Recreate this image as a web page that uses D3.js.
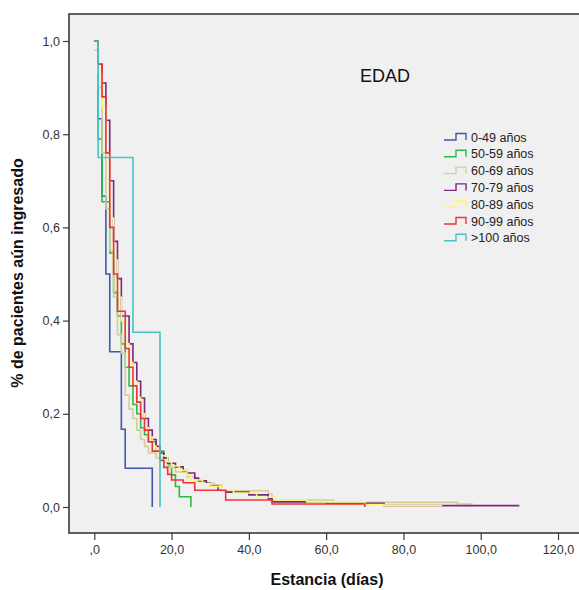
<!DOCTYPE html>
<html>
<head>
<meta charset="utf-8">
<script src="https://cdn.jsdelivr.net/npm/d3@7"></script>
<style>
  html, body { margin: 0; padding: 0; background: #ffffff; }
  svg { display: block; font-family: "Liberation Sans", Arial, sans-serif; }
</style>
</head>
<body>
<svg id="chart" width="579" height="590"></svg>
<script>
// Kaplan-Meier survival steps: [day, proportion still admitted after that day]
const age0_49   = [[0,1],[1,0.833],[2,0.667],[3,0.5],[4,0.333],[7,0.167],[8,0.083],[15,0]];
const age50_59  = [[0,1],[1,0.79],[2,0.655],[4,0.545],[5,0.46],[6,0.41],[7,0.35],[8,0.30],[9,0.26],[10,0.22],[11,0.20],[12,0.17],[13,0.155],[14,0.14],[16,0.12],[18,0.105],[19,0.09],[20,0.069],[21,0.044],[22,0.022],[25,0]];
const age60_69  = [[0,0.98],[1,0.90],[2,0.76],[3,0.64],[4,0.55],[5,0.45],[6,0.37],[7,0.33],[8,0.24],[9,0.21],[10,0.19],[11,0.165],[12,0.145],[13,0.13],[14,0.116],[16,0.105],[18,0.095],[19,0.085],[21,0.075],[24,0.065],[26,0.058],[28,0.051],[31,0.047],[33,0.035],[45,0.028],[46,0.015],[62,0.010],[94,0.0064],[98,0.0064]];
const age70_79  = [[0,1],[1,0.95],[2,0.91],[3,0.83],[4,0.70],[5,0.57],[6,0.49],[7,0.41],[9,0.35],[10,0.31],[11,0.27],[12,0.234],[13,0.19],[14,0.165],[15,0.145],[16,0.13],[17,0.116],[18,0.105],[19,0.094],[21,0.086],[23,0.078],[24,0.073],[26,0.062],[27,0.056],[29,0.051],[30,0.045],[32,0.036],[34,0.032],[40,0.026],[45,0.018],[46,0.011],[60,0.008],[75,0.003],[110,0.003]];
const age80_89  = [[0,0.99],[1,0.93],[2,0.86],[3,0.76],[4,0.62],[5,0.53],[6,0.45],[7,0.40],[8,0.35],[9,0.31],[10,0.27],[11,0.235],[12,0.20],[13,0.17],[14,0.15],[15,0.13],[16,0.12],[17,0.11],[19,0.097],[20,0.088],[22,0.079],[24,0.068],[25,0.058],[28,0.05],[30,0.044],[33,0.037],[36,0.03],[42,0.021],[47,0.015],[55,0.011],[70,0.005],[75,0.003],[90,0.003]];
const age90_99  = [[0,1],[1,0.95],[2,0.88],[3,0.76],[4,0.60],[5,0.50],[6,0.42],[8,0.34],[9,0.30],[10,0.26],[11,0.225],[12,0.19],[13,0.165],[14,0.14],[15,0.12],[17,0.10],[18,0.085],[19,0.07],[20,0.058],[23,0.052],[26,0.036],[34,0.015],[46,0.0064],[70,0]];
const age100    = [[0,1],[1,0.75],[10,0.375],[17,0]];

const groupLabels = ["0-49 años","50-59 años","60-69 años","70-79 años","80-89 años","90-99 años",">100 años"];
const groupColors = ["#3E58AC","#2EB848","#D3CE97","#7C287D","#FBF873","#EF3338","#48C2C5"];
const groupSeries = [age0_49, age50_59, age60_69, age70_79, age80_89, age90_99, age100];

const xTicks = [0,20,40,60,80,100,120];
const yTicks = [0,0.2,0.4,0.6,0.8,1.0];

const svg = d3.select("#chart");
const frame = { left: 69, top: 14, right: 585, bottom: 533 };

const x = d3.scaleLinear().domain([0,120]).range([94.3,558]);
const y = d3.scaleLinear().domain([0,1]).range([507,41]);

// plot background and frame
svg.append("rect")
  .attr("x", frame.left).attr("y", frame.top)
  .attr("width", frame.right - frame.left).attr("height", frame.bottom - frame.top)
  .attr("fill", "#F0F0F0").attr("stroke", "#3a3a3a").attr("stroke-width", 1.6);

svg.append("defs").append("clipPath").attr("id","plotClip")
  .append("rect").attr("x", frame.left).attr("y", frame.top)
  .attr("width", frame.right - frame.left).attr("height", frame.bottom - frame.top);

const commaFmt = d => d === 0 ? ",0" : d3.format(".1f")(d).replace(".", ",");

// axes
const yAxis = svg.append("g").attr("transform", `translate(${frame.left},0)`)
  .call(d3.axisLeft(y).tickValues(yTicks).tickFormat(d => d3.format(".1f")(d).replace(".", ",")).tickSize(6).tickSizeOuter(0).tickPadding(3));
const xAxis = svg.append("g").attr("transform", `translate(0,${frame.bottom})`)
  .call(d3.axisBottom(x).tickValues(xTicks).tickFormat(commaFmt).tickSize(7).tickSizeOuter(0).tickPadding(5));
[yAxis, xAxis].forEach(a => {
  a.select(".domain").remove();
  a.selectAll(".tick line").attr("stroke", "#3a3a3a").attr("stroke-width", 1.2);
  a.selectAll(".tick text").attr("fill", "#333").style("font-size", "12.5px")
    .style("font-family", "'Liberation Sans', Arial, sans-serif");
});

// survival curves
const line = d3.line().x(d => x(d[0])).y(d => y(d[1])).curve(d3.curveStepAfter);
const curves = svg.append("g").attr("clip-path", "url(#plotClip)");
groupSeries.forEach((s, i) => {
  curves.append("path").datum(s)
    .attr("d", line)
    .attr("fill", "none")
    .attr("stroke", groupColors[i])
    .attr("stroke-width", 1.6)
    .attr("stroke-linejoin", "miter");
});

// legend
svg.append("text").attr("x", 360).attr("y", 82).text("EDAD")
  .attr("fill", "#111").style("font-size", "18px");
const legend = svg.append("g");
groupLabels.forEach((lab, i) => {
  const yy = 137 + i * 16.8;
  legend.append("path")
    .attr("d", `M444,${yy + 3} H456 V${yy - 3.5} H466 V${yy + 3}`)
    .attr("fill", "none").attr("stroke", groupColors[i]).attr("stroke-width", 1.4);
  legend.append("text").attr("x", 471).attr("y", yy + 4.5).text(lab)
    .attr("fill", "#222").style("font-size", "12.5px");
});

// axis titles
svg.append("text").attr("x", 327).attr("y", 585).attr("text-anchor", "middle")
  .text("Estancia (días)").attr("fill", "#111")
  .style("font-size", "16px").style("font-weight", "bold");
svg.append("text").attr("transform", "translate(23,273) rotate(-90)").attr("text-anchor", "middle")
  .text("% de pacientes aún ingresado").attr("fill", "#111")
  .style("font-size", "16px").style("font-weight", "bold");
</script>
</body>
</html>
